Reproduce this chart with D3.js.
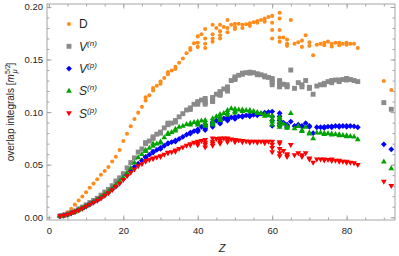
<!DOCTYPE html>
<html>
<head>
<meta charset="utf-8">
<script src="https://cdn.jsdelivr.net/npm/d3@7"></script>
<style>
body { margin: 0; background: #fff; }
svg { display: block; font-family: 'Liberation Sans', Arial, sans-serif; }
</style>
</head>
<body>
<svg width="399" height="256"></svg>
<script>
'use strict'

// one value per element (main isotope)
const zMain = [
    3, 4, 5, 6, 7, 8, 9, 10, 11, 12,
    13, 14, 15, 16, 17, 18, 19, 20, 21, 22,
    23, 24, 25, 26, 27, 28, 29, 30, 31, 32,
    33, 34, 35, 36, 37, 38, 39, 40, 41, 42,
    44, 45, 46, 47, 48, 49, 50, 51, 52, 53, 54, 55, 56, 57, 58, 59, 60,
    62, 63, 64, 65, 66, 67, 68, 69, 70, 71, 72, 73, 74, 75, 76, 77, 78, 79, 80, 81, 82, 83,
    90, 92
]
const dMain = [
    0.0015, 0.0028, 0.0048, 0.0080, 0.0120, 0.0160, 0.0198, 0.0238, 0.0280, 0.0320,
    0.0362, 0.0405, 0.0440, 0.0478, 0.0530, 0.0575, 0.0640, 0.0725, 0.0795, 0.0865,
    0.0935, 0.0995, 0.1050, 0.1110, 0.1160, 0.1205, 0.1250, 0.1290, 0.1325, 0.1360,
    0.1395, 0.1430, 0.1470, 0.1510, 0.1560, 0.1610, 0.1655, 0.1720, 0.1740, 0.1790,
    0.1830, 0.1800, 0.1830, 0.1810, 0.1875, 0.1830, 0.1840, 0.1840, 0.1830, 0.1835, 0.1845, 0.1855, 0.1865, 0.1875, 0.1890, 0.1905, 0.1915,
    0.1945, 0.1710, 0.1690, 0.1875, 0.1650, 0.1665, 0.1680, 0.1730, 0.1665, 0.1540, 0.1640, 0.1650, 0.1660, 0.1670, 0.1650, 0.1660, 0.1660, 0.1650, 0.1660, 0.1650, 0.1650, 0.1610,
    0.1296, 0.1210
]
const vnMain = [
    0.0012, 0.0019, 0.0030, 0.0045, 0.0060, 0.0080, 0.0097, 0.0118, 0.0140, 0.0160,
    0.0180, 0.0210, 0.0240, 0.0265, 0.0300, 0.0345, 0.0375, 0.0415, 0.0470, 0.0520,
    0.0565, 0.0620, 0.0650, 0.0700, 0.0725, 0.0750, 0.0790, 0.0810, 0.0850, 0.0880,
    0.0895, 0.0920, 0.0955, 0.0985, 0.1020, 0.1040, 0.1075, 0.1100, 0.1115, 0.1130,
    0.1140, 0.1170, 0.1195, 0.1220, 0.1240, 0.1300, 0.1335, 0.1350, 0.1370, 0.1375, 0.1380, 0.1375, 0.1365, 0.1355, 0.1345, 0.1330, 0.1320,
    0.1300, 0.1265, 0.1260, 0.1400, 0.1226, 0.1280, 0.1260, 0.1300, 0.1236, 0.1170, 0.1248, 0.1260, 0.1274, 0.1290, 0.1300, 0.1305, 0.1305, 0.1310, 0.1320, 0.1310, 0.1300, 0.1290,
    0.1090, 0.1027
]
const vpMain = [
    0.0010, 0.0017, 0.0026, 0.0038, 0.0052, 0.0068, 0.0085, 0.0104, 0.0124, 0.0144,
    0.0162, 0.0185, 0.0210, 0.0235, 0.0265, 0.0295, 0.0330, 0.0365, 0.0400, 0.0440,
    0.0480, 0.0510, 0.0540, 0.0570, 0.0595, 0.0615, 0.0640, 0.0660, 0.0680, 0.0700,
    0.0715, 0.0730, 0.0745, 0.0765, 0.0785, 0.0805, 0.0820, 0.0835, 0.0860, 0.0880,
    0.0905, 0.0920, 0.0930, 0.0940, 0.0945, 0.0950, 0.0955, 0.0960, 0.0963, 0.0968, 0.0972, 0.0975, 0.0980, 0.0985, 0.0995, 0.1000, 0.1005,
    0.0990, 0.0900, 0.0880, 0.0910, 0.0868, 0.0880, 0.0870, 0.0894, 0.0868, 0.0800, 0.0856, 0.0856, 0.0860, 0.0862, 0.0865, 0.0868, 0.0868, 0.0868, 0.0868, 0.0868, 0.0865, 0.0856,
    0.0694, 0.0646
]
const snMain = [
    0.0010, 0.0017, 0.0027, 0.0039, 0.0054, 0.0070, 0.0088, 0.0108, 0.0128, 0.0150,
    0.0168, 0.0192, 0.0218, 0.0245, 0.0275, 0.0310, 0.0345, 0.0380, 0.0425, 0.0470,
    0.0520, 0.0570, 0.0600, 0.0630, 0.0660, 0.0680, 0.0700, 0.0720, 0.0760, 0.0790,
    0.0810, 0.0840, 0.0860, 0.0870, 0.0885, 0.0895, 0.0905, 0.0910, 0.0920, 0.0925,
    0.0940, 0.0960, 0.0980, 0.0990, 0.1020, 0.1035, 0.1030, 0.1025, 0.1025, 0.1020, 0.1020, 0.1010, 0.1000, 0.0990, 0.0980, 0.0970, 0.0965,
    0.0955, 0.0890, 0.0870, 0.0990, 0.0846, 0.0868, 0.0830, 0.0860, 0.0804, 0.0750, 0.0804, 0.0804, 0.0800, 0.0798, 0.0795, 0.0792, 0.0788, 0.0782, 0.0778, 0.0773, 0.0766, 0.0741,
    0.0529, 0.0466
]
const spMain = [
    0.0010, 0.0016, 0.0025, 0.0036, 0.0050, 0.0065, 0.0082, 0.0100, 0.0120, 0.0140,
    0.0158, 0.0180, 0.0205, 0.0230, 0.0258, 0.0290, 0.0320, 0.0355, 0.0390, 0.0425,
    0.0455, 0.0485, 0.0505, 0.0530, 0.0545, 0.0555, 0.0570, 0.0580, 0.0595, 0.0610,
    0.0620, 0.0635, 0.0650, 0.0665, 0.0680, 0.0695, 0.0710, 0.0720, 0.0725, 0.0735,
    0.0750, 0.0745, 0.0750, 0.0750, 0.0750, 0.0740, 0.0735, 0.0730, 0.0725, 0.0722, 0.0720, 0.0718, 0.0718, 0.0718, 0.0718, 0.0718, 0.0718,
    0.0715, 0.0630, 0.0600, 0.0687, 0.0590, 0.0610, 0.0590, 0.0610, 0.0560, 0.0520, 0.0551, 0.0551, 0.0551, 0.0545, 0.0551, 0.0538, 0.0538, 0.0529, 0.0529, 0.0519, 0.0515, 0.0497,
    0.0338, 0.0298
]

// further isotopes of the same elements
const zExtra = [26, 28, 30, 32, 34, 38, 40, 40, 42, 42, 42, 44, 44, 44, 46, 46, 46, 48, 48, 50, 50, 52, 54, 56, 58,
    60, 60, 60, 62, 62, 62, 62, 64, 64, 68, 70, 74, 76, 78, 80]
const dExtra = [0.1140, 0.1230, 0.1270, 0.1380, 0.1410, 0.1590, 0.1660, 0.1620, 0.1700, 0.1650, 0.1610, 0.1740, 0.1700, 0.1670, 0.1770, 0.1730, 0.1700, 0.1800, 0.1760, 0.1810, 0.1790, 0.1800, 0.1820, 0.1850, 0.1860,
    0.1850, 0.1780, 0.1700, 0.1890, 0.1780, 0.1710, 0.1670, 0.1650, 0.1630, 0.1620, 0.1630, 0.1635, 0.1625, 0.1635, 0.1640]
const vnExtra = [0.0710, 0.0765, 0.0800, 0.0895, 0.0905, 0.1025, 0.1090, 0.1075, 0.1105, 0.1090, 0.1075, 0.1125, 0.1110, 0.1100, 0.1180, 0.1170, 0.1160, 0.1215, 0.1200, 0.1320, 0.1310, 0.1360, 0.1370, 0.1355, 0.1335,
    0.1300, 0.1280, 0.1260, 0.1290, 0.1270, 0.1250, 0.1240, 0.1250, 0.1240, 0.1240, 0.1225, 0.1260, 0.1280, 0.1290, 0.1305]
const vpExtra = [0.0575, 0.0625, 0.0650, 0.0705, 0.0720, 0.0795, 0.0825, 0.0815, 0.0860, 0.0845, 0.0830, 0.0890, 0.0875, 0.0860, 0.0915, 0.0900, 0.0890, 0.0930, 0.0920, 0.0945, 0.0935, 0.0955, 0.0960, 0.0970, 0.0985,
    0.0960, 0.0920, 0.0870, 0.0960, 0.0920, 0.0890, 0.0870, 0.0870, 0.0860, 0.0860, 0.0860, 0.0850, 0.0855, 0.0860, 0.0860]
const snExtra = [0.0640, 0.0700, 0.0710, 0.0800, 0.0825, 0.0880, 0.0895, 0.0880, 0.0900, 0.0885, 0.0870, 0.0915, 0.0895, 0.0880, 0.0960, 0.0940, 0.0925, 0.0995, 0.0975, 0.1010, 0.0995, 0.1010, 0.1005, 0.0990, 0.0965,
    0.0930, 0.0910, 0.0880, 0.0940, 0.0910, 0.0880, 0.0860, 0.0860, 0.0850, 0.0820, 0.0795, 0.0790, 0.0785, 0.0780, 0.0770]
const spExtra = [0.0535, 0.0560, 0.0575, 0.0615, 0.0625, 0.0685, 0.0700, 0.0685, 0.0710, 0.0690, 0.0665, 0.0720, 0.0700, 0.0680, 0.0725, 0.0710, 0.0700, 0.0730, 0.0715, 0.0725, 0.0715, 0.0715, 0.0710, 0.0710, 0.0705,
    0.0690, 0.0660, 0.0620, 0.0700, 0.0650, 0.0610, 0.0580, 0.0590, 0.0575, 0.0575, 0.0550, 0.0540, 0.0535, 0.0530, 0.0520]

const xTicks = [0, 20, 40, 60, 80]
const yTicks = [0, 0.05, 0.1, 0.15, 0.2]
const legendNames = ['D', 'V', 'V', 'S', 'S']
const legendSups = ['', '(n)', '(p)', '(n)', '(p)']

const colors = ['#ff8c1a', '#8a8a8a', '#0000ff', '#00a300', '#ff0000']
const shapes = [
    d3.symbol(d3.symbolCircle, 13)(),
    d3.symbol(d3.symbolSquare, 24)(),
    'M0,-2.9L2.9,0L0,2.9L-2.9,0Z',
    'M0,-3.1L2.9,1.9L-2.9,1.9Z',
    'M0,3.1L2.9,-1.9L-2.9,-1.9Z'
]

const series = [
    [dMain, dExtra], [vnMain, vnExtra], [vpMain, vpExtra], [snMain, snExtra], [spMain, spExtra]
].map(([a, b]) => zMain.map((z, i) => [z, a[i]]).concat(zExtra.map((z, i) => [z, b[i]])))

const svg = d3.select('svg')
const frame = { left: 47, right: 395, top: 4, bottom: 220 }

const x = d3.scaleLinear().domain([-0.5, 93]).range([frame.left, frame.right])
const y = d3.scaleLinear().domain([-0.0026, 0.2028]).range([frame.bottom, frame.top])

const frameColor = '#a6a6a6'
const textColor = '#262626'

const styleAxis = g => {
    g.select('.domain').remove()
    g.selectAll('line').attr('stroke', frameColor)
    g.selectAll('text').attr('fill', textColor).attr('font-size', 9.5)
}

const xMinor = d3.range(0, 95, 5)
const yMinor = d3.range(0, 0.2001, 0.01)

// bottom / top
svg.append('g').attr('transform', `translate(0,${frame.bottom})`)
    .call(d3.axisBottom(x).tickValues(xMinor).tickSize(-2.5).tickFormat(''))
    .call(styleAxis)
svg.append('g').attr('transform', `translate(0,${frame.bottom})`)
    .call(d3.axisBottom(x).tickValues(xTicks).tickSize(-4.5).tickPadding(6.8).tickFormat(d3.format('d')))
    .call(styleAxis)
svg.append('g').attr('transform', `translate(0,${frame.top})`)
    .call(d3.axisTop(x).tickValues(xMinor).tickSize(-2.5).tickFormat(''))
    .call(styleAxis)
svg.append('g').attr('transform', `translate(0,${frame.top})`)
    .call(d3.axisTop(x).tickValues(xTicks).tickSize(-4.5).tickFormat(''))
    .call(styleAxis)

// left / right
svg.append('g').attr('transform', `translate(${frame.left},0)`)
    .call(d3.axisLeft(y).tickValues(yMinor).tickSize(-2.5).tickFormat(''))
    .call(styleAxis)
svg.append('g').attr('transform', `translate(${frame.left},0)`)
    .call(d3.axisLeft(y).tickValues(yTicks).tickSize(-4.5).tickPadding(4).tickFormat(d3.format('.2f')))
    .call(styleAxis)
svg.append('g').attr('transform', `translate(${frame.right},0)`)
    .call(d3.axisRight(y).tickValues(yMinor).tickSize(-2.5).tickFormat(''))
    .call(styleAxis)
svg.append('g').attr('transform', `translate(${frame.right},0)`)
    .call(d3.axisRight(y).tickValues(yTicks).tickSize(-4.5).tickFormat(''))
    .call(styleAxis)

svg.append('rect')
    .attr('x', frame.left).attr('y', frame.top)
    .attr('width', frame.right - frame.left).attr('height', frame.bottom - frame.top)
    .attr('fill', 'none').attr('stroke', frameColor)

// points
series.forEach((pts, k) => {
    svg.append('g')
        .selectAll('path')
        .data(pts)
        .enter()
        .append('path')
        .attr('d', shapes[k])
        .attr('fill', colors[k])
        .attr('transform', d => `translate(${x(d[0])},${y(d[1])})`)
})

// legend
const legend = svg.append('g')
legendNames.forEach((name, k) => {
    const ly = 24 + k * 22.3
    legend.append('path')
        .attr('d', shapes[k])
        .attr('fill', colors[k])
        .attr('transform', `translate(69,${ly})`)
    const t = legend.append('text')
        .attr('x', 79).attr('y', ly + 4.3)
        .attr('font-size', 12)
        .attr('fill', textColor)
    t.append('tspan').text(name).attr('font-style', k ? 'italic' : 'normal')
    if (legendSups[k]) {
        t.append('tspan').text(legendSups[k])
            .attr('font-style', 'italic').attr('font-size', 8).attr('dy', -5)
    }
})

// axis labels
svg.append('text')
    .attr('x', 222).attr('y', 251.5)
    .attr('text-anchor', 'middle')
    .attr('font-size', 11).attr('font-style', 'italic')
    .attr('fill', textColor)
    .text('Z')

const yl = svg.append('text')
    .attr('transform', 'translate(14,112) rotate(-90)')
    .attr('text-anchor', 'middle')
    .attr('font-size', 10)
    .attr('fill', textColor)
yl.append('tspan').text('overlap integrals [')
yl.append('tspan').text('m').attr('font-style', 'italic')
yl.append('tspan').text('5/2').attr('font-size', 7).attr('dy', -4.5)
yl.append('tspan').text('μ').attr('font-size', 7).attr('font-style', 'italic').attr('dx', -9).attr('dy', 7.5)
yl.append('tspan').text(']').attr('dx', 4).attr('dy', -3)
</script>
</body>
</html>
